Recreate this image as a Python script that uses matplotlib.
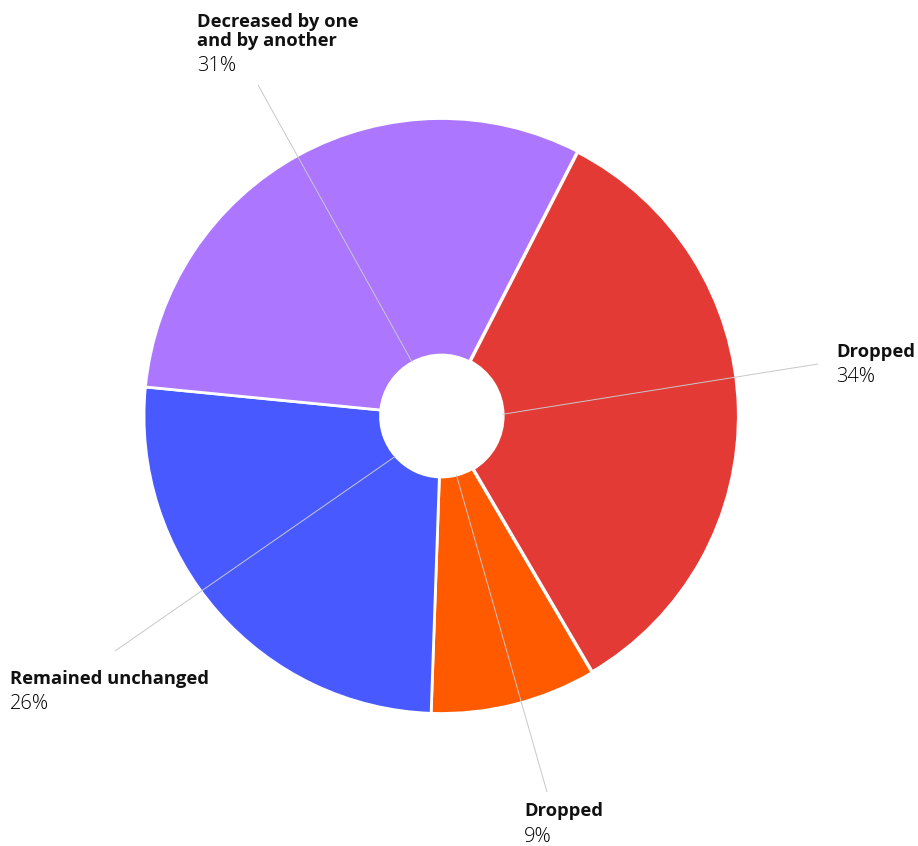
import numpy as np
import matplotlib
matplotlib.use("Agg")
import matplotlib.pyplot as plt

# Share of answers, clockwise from the top-right
labels = ["Dropped", "Dropped", "Remained unchanged", "Decreased by one\nand by another"]
values = [34, 9, 26, 31]
colors = ["#E43A36", "#FF5A00", "#485AFF", "#AC77FE"]

# Label anchors (pixel x, baseline of first line) and leader-line outer ends
label_pos = [(836, 357), (524, 816.5), (10, 684), (197, 26.5)]
leader_end = [(818, 364), (547, 792), (115, 651), (258, 85)]

W, H = 918, 846
CX, CY, R = 441.5, 416.0, 297.5
HOLE = 0.205
START = 62.8  # degrees, matplotlib convention
LINE_STEP = 19.5
PCT_GAP = 25

TITLE_FONT = "Open Sans"


def to_data(x, y):
    return ((x - CX) / R, (CY - y) / R)


fig = plt.figure(figsize=(W / 100, H / 100), dpi=100)
ax = fig.add_axes([0, 0, 1, 1])

wedges, _ = ax.pie(values, colors=colors, startangle=START, counterclock=False,
                   radius=1.0, center=(0, 0), frame=True,
                   wedgeprops=dict(width=1 - HOLE, edgecolor="white", linewidth=2.0))
# a slightly wider white seam where the ring closes
wedges[0].set_linewidth(3.0)
ax.set_xlim(-CX / R, (W - CX) / R)
ax.set_ylim(-(H - CY) / R, CY / R)
ax.set_aspect("equal")
ax.axis("off")

# Leader lines from the hole edge at each wedge's middle angle to its label
total = sum(values)
acc = 0
for i, v in enumerate(values):
    mid = START - (acc + v / 2) / total * 360
    acc += v
    a = np.deg2rad(mid)
    x0, y0 = HOLE * np.cos(a), HOLE * np.sin(a)
    x1, y1 = to_data(*leader_end[i])
    ax.plot([x0, x1], [y0, y1], color="#c8c8c8", lw=0.7, zorder=5,
            solid_capstyle="butt")

# Labels: bold category name and light percentage below
for i, (lab, v) in enumerate(zip(labels, values)):
    lx, ly = label_pos[i]
    lines = lab.split("\n")
    for k, line in enumerate(lines):
        x, y = to_data(lx, ly + k * LINE_STEP)
        ax.text(x, y, line, ha="left", va="baseline", fontsize=13.2,
                fontweight="bold", family=TITLE_FONT, color="#111111")
    py = ly + (len(lines) - 1) * LINE_STEP + PCT_GAP
    x, y = to_data(lx, py)
    ax.text(x, y, f"{v}%", ha="left", va="baseline", fontsize=14.5,
            fontweight="light", family=TITLE_FONT, color="#000000")

fig.savefig("out.png", dpi=100, facecolor="white")
